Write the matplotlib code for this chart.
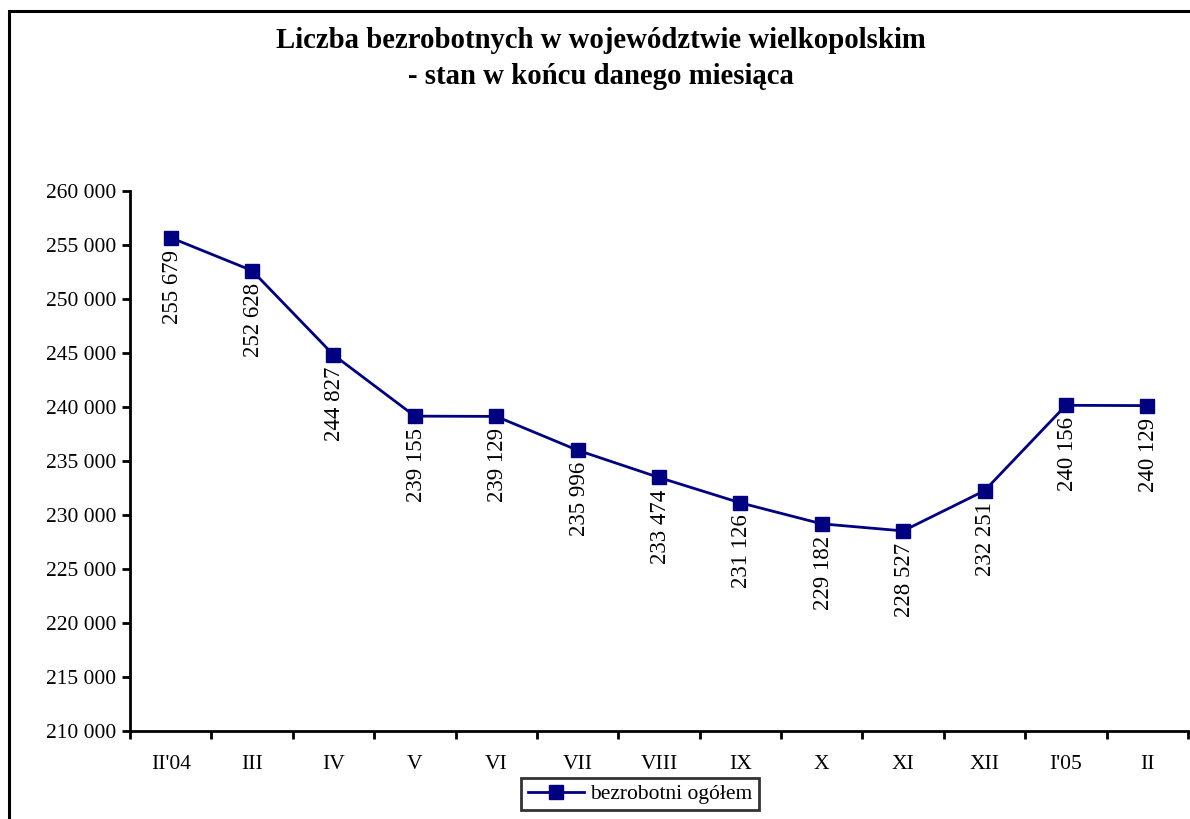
import matplotlib
matplotlib.use("Agg")
import matplotlib.pyplot as plt
from matplotlib.patches import Rectangle
from matplotlib.ticker import FuncFormatter, FixedLocator

plt.rcParams['font.family'] = ['Liberation Serif', 'DejaVu Serif']

months = ["II'04", "III", "IV", "V", "VI", "VII", "VIII", "IX", "X", "XI", "XII", "I'05", "II"]
unemployed = [255679, 252628, 244827, 239155, 239129, 235996, 233474,
              231126, 229182, 228527, 232251, 240156, 240129]

navy = '#000080'
font_size = 15.5

fig = plt.figure(figsize=(11.9, 8.19), dpi=100)
ax = fig.add_axes([130 / 1190, 1 - 731 / 819, 1058 / 1190, 540 / 819])

# outer frame of the chart (right/bottom edges run off the picture)
fig.patches.append(Rectangle((8.5 / 1190, -0.05), 1.2, 1 - 10.5 / 819 + 0.05,
                             transform=fig.transFigure, fill=False,
                             edgecolor='black', linewidth=2.2))

x = list(range(len(months)))
ax.plot(x, unemployed, color=navy, linewidth=2, marker='s', markersize=10.5,
        markerfacecolor=navy, markeredgecolor=navy, label='bezrobotni ogółem')

# value labels, rotated, under each point
for xi, v in zip(x, unemployed):
    label = f"{v:,}".replace(',', ' ')
    ax.annotate(label, (xi, v), xytext=(1, -8.5), textcoords='offset points',
                rotation=90, ha='center', va='top', fontsize=16.5)

ax.set_xlim(-0.5, len(months) - 0.5)
ax.set_ylim(210000, 260000)
ax.set_yticks(range(210000, 260001, 5000))
ax.yaxis.set_major_formatter(FuncFormatter(lambda v, p: f"{int(v):,}".replace(',', ' ')))

ax.set_xticks(x)
ax.set_xticklabels(months)
ax.xaxis.set_minor_locator(FixedLocator([i - 0.5 for i in range(len(months) + 1)]))
ax.tick_params(axis='x', which='major', length=0, pad=17, labelsize=font_size)
ax.tick_params(axis='x', which='minor', length=6, width=2, direction='out')
ax.tick_params(axis='y', length=6, width=2, direction='out', labelsize=font_size, pad=4)

for side in ['top', 'right']:
    ax.spines[side].set_visible(False)
for side in ['left', 'bottom']:
    ax.spines[side].set_linewidth(2)

fig.text(0.505, 1 - 58.5 / 819, "Liczba bezrobotnych w województwie wielkopolskim\n- stan w końcu danego miesiąca",
         ha='center', va='center', fontsize=20.7, fontweight='bold', linespacing=1.42)

leg = fig.legend(loc='center', bbox_to_anchor=(640 / 1190, 1 - 794 / 819),
                 fontsize=font_size, frameon=True, fancybox=False,
                 handlelength=2.6, borderpad=0.3, handletextpad=0.3)
leg.get_frame().set_edgecolor('black')
leg.get_frame().set_linewidth(2)

fig.savefig('out.png', dpi=100)
